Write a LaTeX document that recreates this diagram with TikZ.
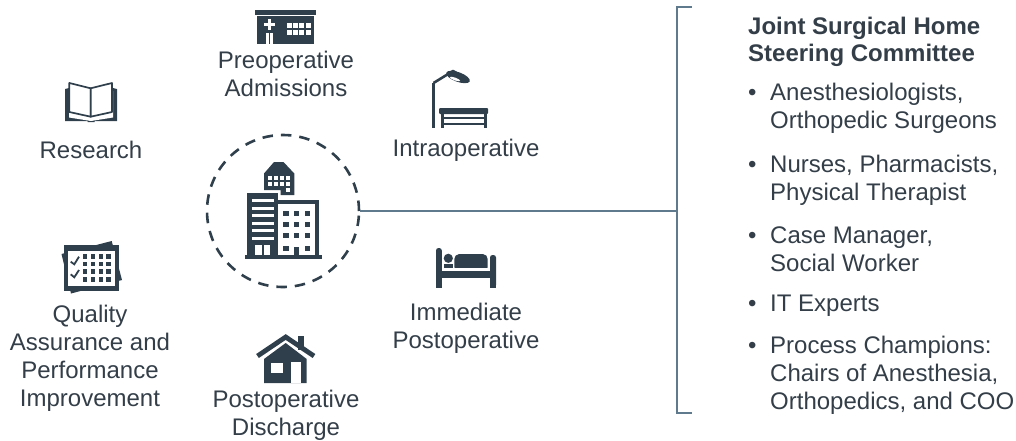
\documentclass[tikz,border=0pt]{standalone}
\usepackage{fontspec}
\setmainfont{Liberation Sans}
\definecolor{icon}{HTML}{2F3F4C}
\definecolor{wire}{HTML}{5F7A8C}
\definecolor{txt}{HTML}{333E48}
\newcommand{\bul}{\makebox[22pt][l]{•}}
\newcommand{\ind}{\hspace*{22pt}}
\tikzset{
  x=1pt,y=-1pt,
  lab/.style={font=\fontsize{24}{28}\selectfont,text=txt,align=center,inner sep=0pt},
  item/.style={font=\fontsize{24}{28}\selectfont,text=txt,align=left,inner sep=0pt,anchor=west},
  ink/.style={fill=icon,draw=none},
  paper/.style={fill=white,draw=none},
  wireline/.style={draw=wire,line width=2.7pt},
}
\begin{document}
\begin{tikzpicture}
\useasboundingbox (0,0) rectangle (1016,440);
% hub
\node[circle,draw=icon,line width=2.6pt,dash pattern=on 10.5pt off 8pt,minimum size=152pt,inner sep=0pt] (hub) at (283,211) {};
\coordinate (brk) at (677,211);
\coordinate (brt) at (677,7);
\coordinate (brb) at (677,413);
\coordinate (brtr) at (692,7);
\coordinate (brbr) at (692,413);
\draw[wireline] (hub.east) -- (brk);
\draw[wireline,line join=miter] (brtr) -- (brt) -- (brb) -- (brbr);
% central building
\fill[ink] (245,255) rectangle (322,259);
\fill[ink] (247,193) rectangle (278,256);
\fill[ink] (278,200) rectangle (319,256);
\fill[paper] (278,204) rectangle (315,255);
\foreach \y in {199,206.5,214,221.7,229,236.7} \fill[paper] (252,\y) rectangle (274,\y+3.4);
\fill[paper] (255,245) rectangle (262,255);
\fill[paper] (263.5,245) rectangle (270,255);
\foreach \x in {283.3,294,304.7} \foreach \y in {210.7,221.7,233.3} \fill[ink] (\x,\y) rectangle (\x+5.2,\y+5);
\fill[ink] (283.3,246) rectangle (288.5,251);
\fill[ink] (304.7,246) rectangle (309.9,251);
\fill[ink] (294,246.5) rectangle (299.2,255);
\fill[ink] (264,173.5) -- (274,162) -- (283.5,162) -- (294.3,173.5) -- (294.3,195) -- (280.5,195) -- (280.5,190) -- (264,190) -- cycle;
\foreach \x in {268.3,274,280,286} \foreach \y in {175.7,181.7} \fill[paper] (\x,\y) rectangle (\x+4,\y+3.8);
\fill[paper] (286,188.3) rectangle (290,192);
% hospital
\fill[ink] (255,10) rectangle (316,15);
\fill[ink] (257,16) rectangle (314,44);
\fill[paper] (267.7,19) rectangle (271,30);
\fill[paper] (263.5,22.7) rectangle (275,26);
\fill[paper] (266,33) rectangle (268.7,44);
\fill[paper] (270.3,33) rectangle (273,44);
\foreach \x in {286.7,293,299.3,305.7} \foreach \y in {23.3,30} \fill[paper] (\x,\y) rectangle (\x+5,\y+5);
% book
\fill[ink] (65,89) -- (69,88) -- (113,88) -- (117,89) -- (117,121) -- (94.5,121) -- (94.5,122) -- (87.5,122) -- (87.5,121) -- (65,121) -- cycle;
\fill[paper] (69,91) -- (91,95) -- (113,91) -- (113,117.5) -- (91,121) -- (69,117.5) -- cycle;
\draw[icon,line width=1.7pt,fill=white,line join=round] (69.3,83) -- (90.7,88.3) -- (90.7,116.7) -- (69.3,112) -- cycle;
\draw[icon,line width=1.7pt,fill=white,line join=round] (112,83) -- (90.7,88.3) -- (90.7,116.7) -- (112,112) -- cycle;
% lamp and table
\fill[ink] (432,83) rectangle (435,128);
\draw[icon,line width=2.6pt,line join=round] (433.5,83) -- (453,71) -- (460,75);
\fill[ink,rotate around={-20:(458,77)}] (458,77) ellipse [x radius=12.5,y radius=4.8];
\fill[paper,rotate around={-20:(455,79)}] (455,79) ellipse [x radius=5.5,y radius=1.4];
\fill[ink,rounded corners=1pt] (439,108) rectangle (488,114);
\fill[ink] (441,113) rectangle (443.5,128);
\fill[ink] (484,113) rectangle (486.5,128);
\fill[ink] (443,116.5) rectangle (484,118.5);
\fill[ink] (443,123) rectangle (484,125);
% checklist
\fill[ink] (61.5,254) -- (111.7,241) -- (122,280) -- (71,293.5) -- cycle;
\fill[ink] (63.5,245) rectangle (119,291);
\fill[paper] (68,251) rectangle (115,286);
\draw[icon,line width=1.8pt] (70.7,261.7) -- (74.3,264.3) -- (79,256.7);
\draw[icon,line width=1.8pt] (70.7,274.3) -- (74.3,277.3) -- (79,270);
\foreach \x in {82.7,90.7,98.7,106} \foreach \y in {254,261.7,269.3,277.3} \fill[ink] (\x,\y) rectangle (\x+4.7,\y+4.6);
% bed
\fill[ink,rounded corners=2.5pt] (436,248) rectangle (441.8,287.5);
\fill[ink] (436,260) rectangle (441.8,287.5);
\fill[ink,rounded corners=2.5pt] (490,255) rectangle (496,287.5);
\fill[ink] (490,265) rectangle (496,287.5);
\fill[ink] (441,270.7) rectangle (491,277.7);
\fill[ink] (448.3,258.3) circle [radius=4.6];
\fill[ink] (444,263.5) rectangle (452.7,267.8);
\fill[ink,rounded corners=5pt] (454.3,254) rectangle (487.7,272);
\fill[paper] (441.8,267.8) rectangle (490,270.7);
% house
\fill[ink] (298,336) rectangle (304,350);
\fill[paper] (262,364) -- (285.7,339.5) -- (309,364) -- cycle;
\fill[ink] (264,359) -- (285.7,343) -- (306.7,359) -- (306.7,383) -- (264,383) -- cycle;
\draw[icon,line width=4.8pt,line join=miter] (257.5,356) -- (285.7,337) -- (314,356);
\fill[paper] (270.7,362.7) rectangle (283.3,373.3);
\fill[paper] (291,361.7) rectangle (300.7,383);
% labels
\node[lab] (preop) at (286,74) {Preoperative\\Admissions};
\node[lab] (research) at (91,150) {Research};
\node[lab] (intra) at (466,150) {Intraoperative};
\node[lab] (quality) at (90,358.5) {Quality\\Assurance and\\Performance\\Improvement};
\node[lab] (immed) at (466,328) {Immediate\\Postoperative};
\node[lab] (disch) at (286,415.5) {Postoperative\\Discharge};
\node[item,font=\fontsize{24}{27}\selectfont\bfseries] (head) at (748,42) {Joint Surgical Home\\Steering Committee};
\node[item] (i1) at (748,108) {\bul Anesthesiologists,\\\ind Orthopedic Surgeons};
\node[item] (i2) at (748,180) {\bul Nurses, Pharmacists,\\\ind Physical Therapist};
\node[item] (i3) at (748,249) {\bul Case Manager,\\\ind Social Worker};
\node[item] (i4) at (748,306) {\bul IT Experts};
\node[item] (i5) at (748,375.5) {\bul Process Champions:\\\ind Chairs of Anesthesia,\\\ind Orthopedics, and COO};
\end{tikzpicture}
\end{document}
